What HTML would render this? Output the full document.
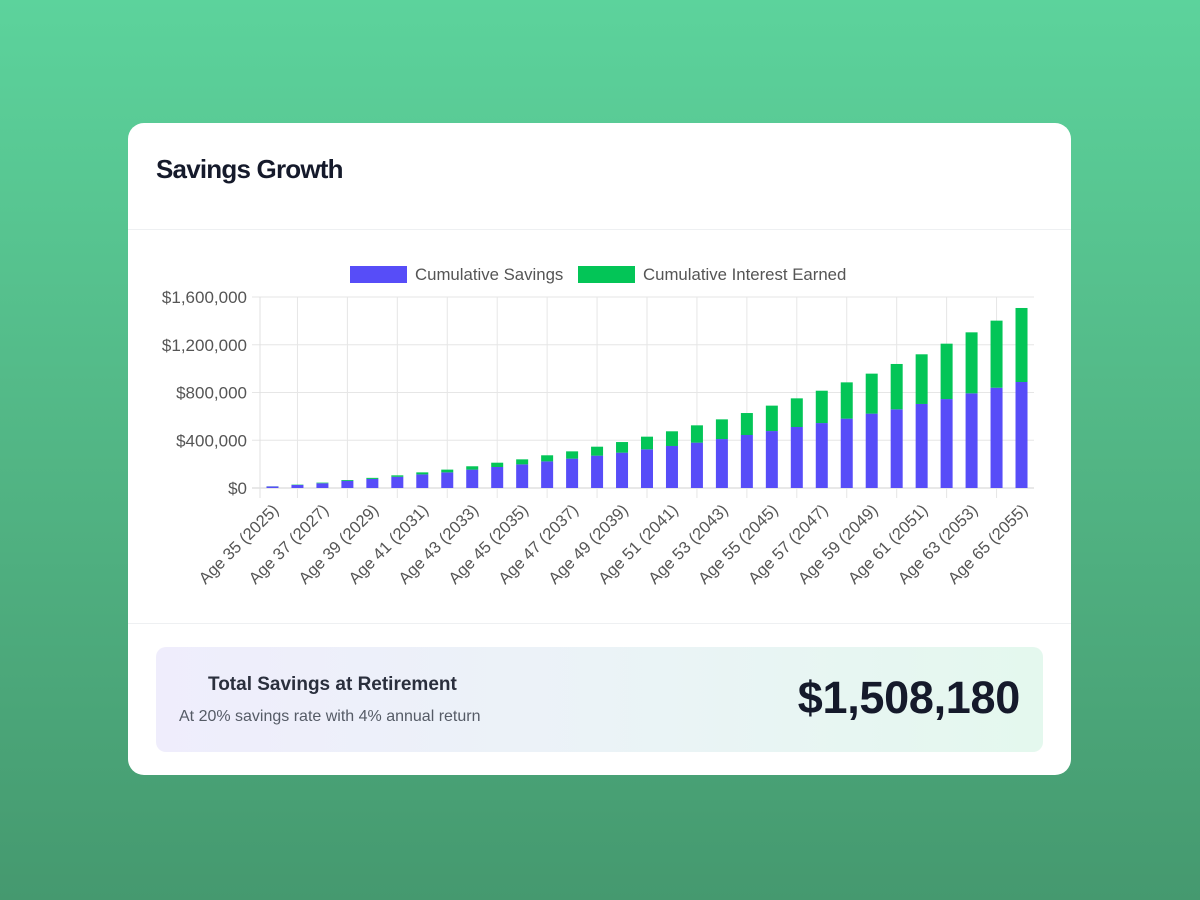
<!DOCTYPE html>
<html><head><meta charset="utf-8"><style>
body{margin:0;width:1200px;height:900px;overflow:hidden;background:linear-gradient(180deg,#5cd39c 0%,#52b685 50%,#45996f 100%);font-family:"Liberation Sans",sans-serif;}
.card{position:absolute;left:128px;top:123px;width:943px;height:652px;background:#fff;border-radius:16px;}
.title{position:absolute;left:28px;top:31px;font-size:26px;font-weight:bold;color:#151a2b;letter-spacing:-0.8px;}
.div1{position:absolute;left:0;right:0;top:106px;height:1px;background:#eef0f2;}
.div2{position:absolute;left:0;right:0;top:500px;height:1px;background:#eef0f2;}
.summary{position:absolute;left:28px;top:524px;width:887px;height:105px;border-radius:10px;background:linear-gradient(90deg,#efedfc 0%,#ebf3f7 50%,#e4f8ee 100%);}
.s1{position:absolute;left:52px;top:27px;font-size:19px;font-weight:bold;color:#2a2f3d;}
.s2{position:absolute;left:23px;top:61px;font-size:16px;color:#555b66;}
.big{position:absolute;right:23px;top:25px;font-size:45px;font-weight:bold;color:#151a2b;letter-spacing:-0.3px;}
svg{position:absolute;left:0;top:0;}
</style></head><body>
<div class="card">
<div class="title">Savings Growth</div>
<div class="div1"></div>
<div class="div2"></div>
<div class="summary">
<div class="s1">Total Savings at Retirement</div>
<div class="s2">At 20% savings rate with 4% annual return</div>
<div class="big">$1,508,180</div>
</div>
</div>
<svg id="chart" width="1200" height="900"></svg>
<script>
const ages=[35,36,37,38,39,40,41,42,43,44,45,46,47,48,49,50,51,52,53,54,55,56,57,58,59,60,61,62,63,64,65];
const savings=[13,25,40,60,76,94,114,131,154,176,198,223,246,271,296,324,352,380,410,444,477,511,544,581,623,659,704,745,793,840,888];
const interest=[1,3,5,7,9,12,17,23,28,36,42,51,61,75,89,106,123,145,165,184,213,240,271,304,335,380,416,464,511,562,620];
const yTicks=[0,400,800,1200,1600];
const yTickLabels=["$0","$400,000","$800,000","$1,200,000","$1,600,000"];
const NS="http://www.w3.org/2000/svg";
const svg=document.getElementById('chart');
const L=260,R=1034,T=297,B=488,yMax=1600;
const bw=(R-L)/ages.length;
const y=v=>B-(v/yMax)*(B-T);
const xc=i=>L+bw*(i+0.5);
function mk(tag,attrs){const e=document.createElementNS(NS,tag);for(const k in attrs)e.setAttribute(k,attrs[k]);svg.appendChild(e);return e;}
yTicks.forEach((t,i)=>{
 const g=mk('line',{x1:L-8,x2:R,y1:y(t),y2:y(t),stroke:i==0?'#d0d0d0':'#e6e6e6','stroke-width':1});
 
 
 const tx=mk('text',{x:L-13,y:y(t)+6,'text-anchor':'end','font-size':17,fill:'#555','font-family':'Liberation Sans, sans-serif'});
 tx.textContent=yTickLabels[i];
 
 
});
mk('line',{x1:L,x2:L,y1:T,y2:B+10,stroke:'#e0e0e0'});
for(let i=1;i<ages.length;i+=2){
 const g=mk('line',{x1:xc(i),x2:xc(i),y1:T,y2:B+10,stroke:'#e6e6e6'});
 
 
}
ages.forEach((a,i)=>{
 const x=xc(i),w=12;
 const b=mk('rect',{x:x-w/2,y:y(savings[i]),width:w,height:B-y(savings[i]),fill:'#574df8'});
 
 
 const g=mk('rect',{x:x-w/2,y:y(savings[i]+interest[i]),width:w,height:y(savings[i])-y(savings[i]+interest[i]),fill:'#03c557'});
 
 
 if(i%2==0){
  const tx=mk('text',{'text-anchor':'end','font-size':16.5,fill:'#555','font-family':'Liberation Sans, sans-serif',transform:`translate(${x+7},${B+23}) rotate(-45)`});
  tx.textContent=`Age ${a} (${2025+i})`;
  
  
 }
});
const lg=[['#574df8',350,'Cumulative Savings'],['#03c557',578,'Cumulative Interest Earned']];
lg.forEach(l=>{
 const r=mk('rect',{x:l[1],y:266,width:57,height:17,fill:l[0]});
 
 
 const t=mk('text',{x:l[1]+65,y:280,'font-size':16.8,fill:'#555','font-family':'Liberation Sans, sans-serif'});
 t.textContent=l[2];
 
 
});
</script>
</body></html>
